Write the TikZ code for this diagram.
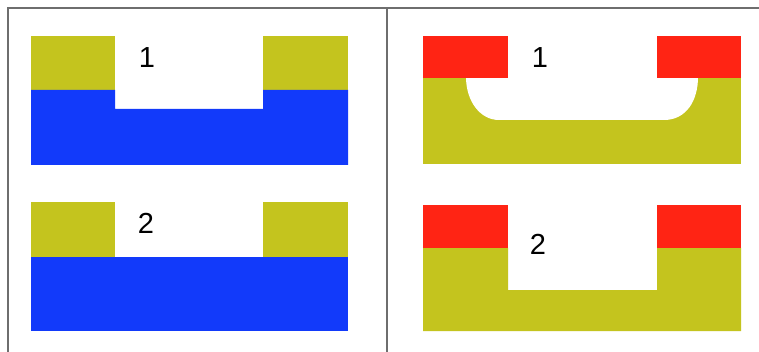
\documentclass[tikz,border=0pt]{standalone}
\usepackage{fontspec}
\setmainfont{Liberation Sans}
\definecolor{olive}{RGB}{196,196,30}
\definecolor{blu}{RGB}{18,58,250}
\definecolor{rd}{RGB}{255,36,20}
\definecolor{frm}{RGB}{110,110,110}
\begin{document}
\begin{tikzpicture}[x=1pt,y=-1pt,
  lbl/.style={font=\fontsize{29}{29}\selectfont, inner sep=0pt},
  frame/.style={draw=frm, line width=1.4pt}]
\useasboundingbox (0,0) rectangle (759,352);
\fill[white] (0,0) rectangle (759,352);
% frame
\draw[frame] (8,352) -- (8,8) -- (759,8);
\draw[frame] (387,8) -- (387,352);
% left panel 1
\fill[olive] (31,36) rectangle (115,90);
\fill[olive] (263,36) rectangle (348,90);
\fill[blu] (31,90) -- (115,90) -- (115,109) -- (263,109) -- (263,90) -- (348,90) -- (348,165) -- (31,165) -- cycle;
\node[lbl] (l1) at (147,58) {1};
% left panel 2
\fill[olive] (31,202) rectangle (115,257);
\fill[olive] (263,202) rectangle (348,257);
\fill[blu] (31,257) rectangle (348,331);
\node[lbl] (l2) at (146,223) {2};
% right panel 1
\fill[olive] (423,78) rectangle (741,164);
\fill[white] (466,77) -- (698,77) .. controls (698,101) and (686,120) .. (664,120) -- (499,120) .. controls (480,120) and (466,101) .. (466,77) -- cycle;
\fill[rd] (423,36) rectangle (508,78);
\fill[rd] (657,36) rectangle (741,78);
\node[lbl] (r1) at (540,58) {1};
% right panel 2
\fill[olive] (423,248) -- (508,248) -- (508,290) -- (657,290) -- (657,248) -- (741,248) -- (741,331) -- (423,331) -- cycle;
\fill[rd] (423,205) rectangle (508,248);
\fill[rd] (657,205) rectangle (741,248);
\node[lbl] (r2) at (538,244) {2};
\end{tikzpicture}
\end{document}
